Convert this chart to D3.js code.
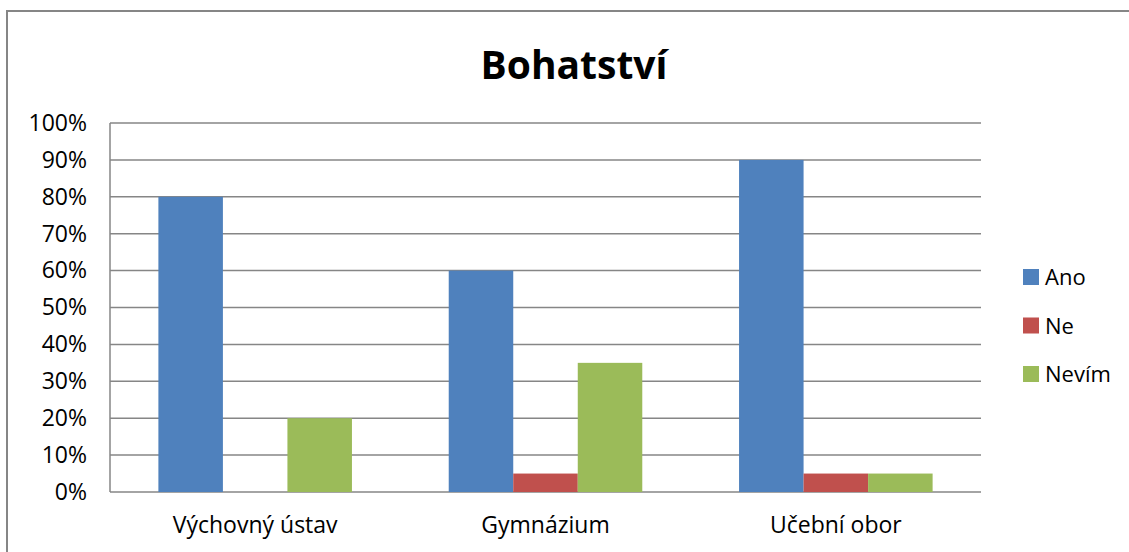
<!DOCTYPE html>
<html>
<head>
<meta charset="utf-8">
<script src="https://cdn.jsdelivr.net/npm/d3@7"></script>
<style>
  body { margin: 0; background: #fff; }
  svg { display: block; font-family: "Open Sans", "Noto Sans", sans-serif; }
</style>
</head>
<body>
<script>
const categories = ["Výchovný ústav", "Gymnázium", "Učební obor"];
const seriesNames = ["Ano", "Ne", "Nevím"];
const ano = [0.80, 0.60, 0.90];
const ne = [0.00, 0.05, 0.05];
const nevim = [0.20, 0.35, 0.05];
const colors = ["#4F81BD", "#C0504D", "#9BBB59"];
const yTicks = [0, 0.1, 0.2, 0.3, 0.4, 0.5, 0.6, 0.7, 0.8, 0.9, 1.0];

const width = 1129, height = 552;
const plot = { left: 110, right: 981, top: 123, bottom: 492 };

const svg = d3.select("body").append("svg")
  .attr("width", width)
  .attr("height", height);

// outer chart frame (runs off right and bottom edges)
svg.append("rect")
  .attr("x", 7).attr("y", 11)
  .attr("width", 1140).attr("height", 600)
  .attr("fill", "none")
  .attr("stroke", "#868686")
  .attr("stroke-width", 2);

svg.append("text")
  .attr("x", 574).attr("y", 79)
  .attr("text-anchor", "middle")
  .style("font-size", "39px")
  .style("font-weight", "bold")
  .text("Bohatství");

const x0 = d3.scaleBand()
  .domain(categories)
  .range([plot.left, plot.right]);

const x1 = d3.scaleBand()
  .domain(seriesNames)
  .range([0, x0.bandwidth()])
  .paddingOuter(0.75);

const y = d3.scaleLinear()
  .domain([0, 1])
  .range([plot.bottom, plot.top]);

// gridlines
svg.append("g")
  .selectAll("line")
  .data(yTicks)
  .enter().append("line")
  .attr("x1", plot.left).attr("x2", plot.right)
  .attr("y1", d => y(d)).attr("y2", d => y(d))
  .attr("stroke", "#868686")
  .attr("stroke-width", 1.5);

// left axis line
svg.append("line")
  .attr("x1", plot.left).attr("x2", plot.left)
  .attr("y1", plot.top).attr("y2", plot.bottom)
  .attr("stroke", "#868686")
  .attr("stroke-width", 1.5);

const yAxis = svg.append("g")
  .attr("transform", `translate(${plot.left},0)`)
  .call(d3.axisLeft(y).tickValues(yTicks).tickFormat(d3.format(".0%")).tickSize(0).tickPadding(23));
yAxis.select(".domain").remove();
yAxis.selectAll("text")
  .style("font-size", "23px")
  .style("font-family", "'Open Sans', 'Noto Sans', sans-serif")
  .attr("fill", "#000");

const xAxis = svg.append("g")
  .attr("transform", `translate(0,${plot.bottom})`)
  .call(d3.axisBottom(x0).tickSize(0));
xAxis.select(".domain").remove();
xAxis.selectAll("text")
  .attr("y", 41)
  .attr("dy", 0)
  .style("font-size", "23px")
  .style("font-family", "'Open Sans', 'Noto Sans', sans-serif")
  .attr("fill", "#000");

const seriesData = [ano, ne, nevim];
const groups = svg.append("g").selectAll("g")
  .data(categories)
  .enter().append("g")
  .attr("transform", d => `translate(${x0(d)},0)`);

groups.selectAll("rect")
  .data((c, i) => seriesNames.map((s, j) => ({ s, v: seriesData[j][i], j })))
  .enter().append("rect")
  .attr("x", d => x1(d.s))
  .attr("width", x1.bandwidth())
  .attr("y", d => y(d.v))
  .attr("height", d => plot.bottom - y(d.v))
  .attr("fill", d => colors[d.j]);

// legend
const legend = svg.append("g")
  .selectAll("g")
  .data(seriesNames)
  .enter().append("g")
  .attr("transform", (d, i) => `translate(1023,${277 + i * 48.5})`);

legend.append("rect")
  .attr("x", 0).attr("y", -8)
  .attr("width", 16).attr("height", 16)
  .attr("fill", (d, i) => colors[i]);

legend.append("text")
  .attr("x", 22).attr("y", 8)
  .style("font-size", "22px")
  .text(d => d);
</script>
</body>
</html>
